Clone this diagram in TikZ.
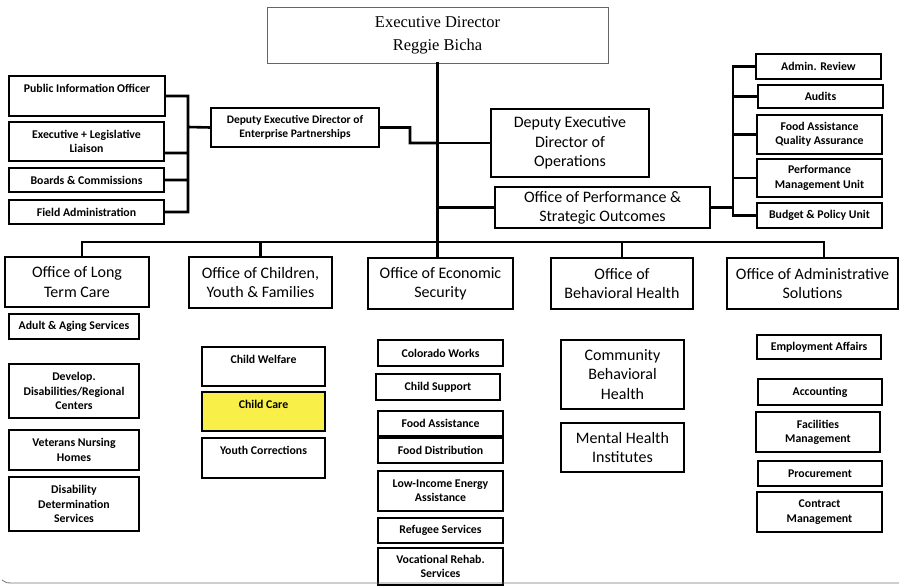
\documentclass[tikz,border=0pt]{standalone}
\usepackage{fontspec}
\setmainfont{Carlito}
\newfontfamily\edfont{Liberation Serif}
\definecolor{careyellow}{RGB}{248,240,72}

\begin{document}
\begin{tikzpicture}[
    x = 1pt, y = -1pt,
    wh/.style 2 args = {minimum width = #1pt, minimum height = #2pt},
    unit/.style = {draw, line width = 1.1pt, inner xsep = 2pt, inner ysep = 0pt, align = center,
                   font = \bfseries\fontsize{11.8}{14.3}\selectfont},
    office/.style = {unit, font = \fontsize{16}{19.3}\selectfont},
    topbox/.style = {text height = 9pt, text depth = #1},
    link/.style = {line width = 2.6pt, line cap = rect}]

\useasboundingbox (0,0) rectangle (899,586);

\node[draw = black!60, line width = 0.9pt, wh = {341}{56}, align = center,
      font = \edfont\fontsize{16.5}{23}\selectfont] (ed) at (437.5,35) {Executive Director\\Reggie Bicha};

\node[unit, wh = {156}{40}, topbox = 16pt] (pio)  at (87,96)     {Public Information Officer};
\node[unit, wh = {155}{39}]                (exl)  at (86.5,141.5) {Executive + Legislative\\Liaison};
\node[unit, wh = {155}{24}]                (bc)   at (86.5,180)  {Boards \& Commissions};
\node[unit, wh = {155}{24}]                (fa)   at (86.5,212)  {Field Administration};
\node[unit, wh = {168}{39}, font = \bfseries\fontsize{11.5}{14}\selectfont] (dep) at (295,127.5)
     {Deputy Executive Director of\\Enterprise Partnerships};

\node[office, wh = {158}{68}] (ops)  at (570,143)     {Deputy Executive\\Director of\\Operations};
\node[office, wh = {215}{41}] (perf) at (602.5,207.5) {Office of Performance \&\\Strategic Outcomes};

\node[unit, wh = {125}{25}] (ar)   at (818.5,66.5)  {Admin. Review};
\node[unit, wh = {125}{23}] (au)   at (820.5,96.5)  {Audits};
\node[unit, wh = {125}{39}] (faqa) at (819.5,134.5) {Food Assistance\\Quality Assurance};
\node[unit, wh = {125}{38}] (pmu)  at (819.5,178)   {Performance\\Management Unit};
\node[unit, wh = {125}{25}] (bpu)  at (819.5,215.5) {Budget \& Policy Unit};

\node[office, wh = {144}{50}] (ltc) at (77,282)      {Office of Long\\Term Care};
\node[office, wh = {143}{51}] (cyf) at (260.5,282.5) {Office of Children,\\Youth \& Families};
\node[office, wh = {145}{51}] (es)  at (440.5,283.5) {Office of Economic\\Security};
\node[office, wh = {142}{51}] (bh)  at (622,283.5)   {Office of\\Behavioral Health};
\node[office, wh = {171}{51}] (as)  at (812.5,283.5) {Office of Administrative\\Solutions};

\node[unit, wh = {130}{25}] (aas)  at (74,326.5) {Adult \& Aging Services};
\node[unit, wh = {130}{54}] (ddrc) at (74,391)   {Develop.\\Disabilities/Regional\\Centers};
\node[unit, wh = {130}{40}] (vnh)  at (74,450)   {Veterans Nursing\\Homes};
\node[unit, wh = {130}{54}] (dds)  at (74,504)   {Disability\\Determination\\Services};

\node[unit, wh = {123}{39}, topbox = 15pt] (cw) at (263.5,366.5) {Child Welfare};
\node[unit, wh = {123}{39}, topbox = 15pt, fill = careyellow] (cc) at (263.5,411.5) {Child Care};
\node[unit, wh = {123}{40}, topbox = 16pt] (yc) at (263.5,458) {Youth Corrections};

\node[unit, wh = {125}{26}] (cwk)  at (440.5,353)   {Colorado Works};
\node[unit, wh = {124}{26}] (cs)   at (438,387)     {Child Support};
\node[unit, wh = {125}{25}] (fas)  at (440.5,423.5) {Food Assistance};
\node[unit, wh = {125}{25}] (fd)   at (440.5,450.5) {Food Distribution};
\node[unit, wh = {125}{40}] (liea) at (440.5,491)   {Low-Income Energy\\Assistance};
\node[unit, wh = {125}{25}] (rs)   at (440.5,530.5) {Refugee Services};
\node[unit, wh = {125}{37}] (vrs)  at (440.5,566.5) {Vocational Rehab.\\Services};

\node[office, wh = {123}{69}] (cbh) at (622.5,374.5) {Community\\Behavioral\\Health};
\node[office, wh = {123}{49}] (mhi) at (622.5,447.5) {Mental Health\\Institutes};

\node[unit, wh = {124}{24}] (ea)   at (819,347)   {Employment Affairs};
\node[unit, wh = {124}{26}] (acc)  at (820,392)   {Accounting};
\node[unit, wh = {124}{40}] (fm)   at (818,432)   {Facilities\\Management};
\node[unit, wh = {124}{25}] (proc) at (820,473.5) {Procurement};
\node[unit, wh = {125}{40}] (cm)   at (819.5,512) {Contract\\Management};

\coordinate (lbar) at (188,127);
\coordinate (jn)   at (410,143);
\coordinate (rbar) at (733,66.5);
\coordinate (bus)  at (437.5,242);

\draw[link] (pio.east) -| (lbar) |- (fa.east)
      (exl.east |- 0,153) -- (lbar |- 0,153)
      (bc.east) -- (bc.east -| lbar)
      (lbar) -- (dep.west)
      (dep.east) -| (jn) -- (jn -| ed.south);
\draw[link] (ed.south) -- (ed.south |- es.north)
      (ops.west -| ed.south) -- (ops.west)
      (perf.west -| ed.south) -- (perf.west);
\draw[link] (ar.west) -- (rbar) |- (bpu.west)
      (au.west) -- (au.west -| rbar)
      (faqa.west) -- (faqa.west -| rbar)
      (pmu.west) -- (pmu.west -| rbar)
      (perf.east) -- (perf.east -| rbar);
\draw[link] (ltc.north -| 82,0) |- (bus) -| (as.north -| 824,0)
      (cyf.north) -- (cyf.north |- bus)
      (bh.north) -- (bh.north |- bus);

\draw[black!55, line width = 0.8pt] (2,580) .. controls (5,583) .. (20,583) -- (899,583);
\end{tikzpicture}
\end{document}
